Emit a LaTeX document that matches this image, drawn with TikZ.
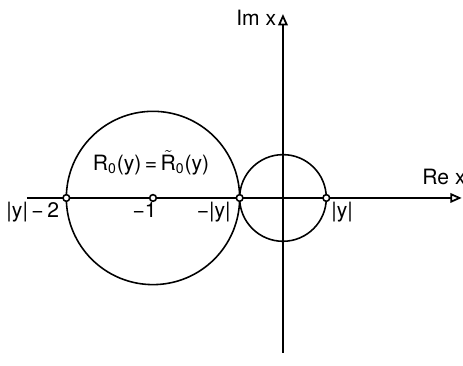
\documentclass[tikz,border=0pt]{standalone}
\usepackage{fontspec}
\setmainfont{TeX Gyre Heros}
\usepackage{tikz}
\usetikzlibrary{arrows.meta,calc,positioning}

\begin{document}
\begin{tikzpicture}[x=2.6cm,y=2.6cm,
    axis/.style={line width=1pt,-{Triangle[open,length=6.5pt,width=5.5pt,line width=1pt]}},
    curve/.style={line width=0.9pt},
    pt/.style={circle,draw,line width=0.9pt,fill=white,inner sep=0pt,minimum size=3.8pt},
    lbl/.style={inner sep=0pt,font=\fontsize{12}{14}\selectfont}]
        \useasboundingbox (-2.177,-1.292) rectangle (1.385,1.523);
        % Define coordinates
        \coordinate (O) at (0,0);
        \coordinate (xl) at (-1.97,0);
        \coordinate (xr) at (1.375,0);
        \coordinate (yb) at (0,-1.192);
        \coordinate (yt) at (0,1.415);
        % Circles
        \draw[curve] (-1,0) circle (2/3);
        \draw[curve] (O) circle (1/3);
        % Axes
        \draw[axis] (xl) -- (xr);
        \draw[axis] (yb) -- (yt);
        % Marked points on the real axis
        \node[pt] (p2) at (-5/3,0) {};
        \node[pt] (p1) at (-1,0) {};
        \node[pt] (pm) at (-1/3,0) {};
        \node[pt] (pp) at (1/3,0) {};
        % Axis labels
        \node[lbl,anchor=base east] (im) at (-0.05,1.33) {Im x};
        \node[lbl,anchor=base west] (re) at (1.07,0.1) {Re x};
        % Point labels
        \node[lbl,anchor=north east] (l2) at (-1.72,-0.03) {|y|\,−\,2};
        \node[lbl,anchor=north east] (l1) at (-0.97,-0.03) {−1};
        \node[lbl,anchor=north east] (lm) at (-0.40,-0.03) {−|y|};
        \node[lbl,anchor=north west] (lp) at (0.37,-0.03) {|y|};
        % Circle label
        \node[lbl] (eq) at (-1.015,0.27) {R\textsubscript{0}(y)\,=\,$\tilde{\hbox{R}}$\textsubscript{0}(y)};
      \end{tikzpicture}
\end{document}
